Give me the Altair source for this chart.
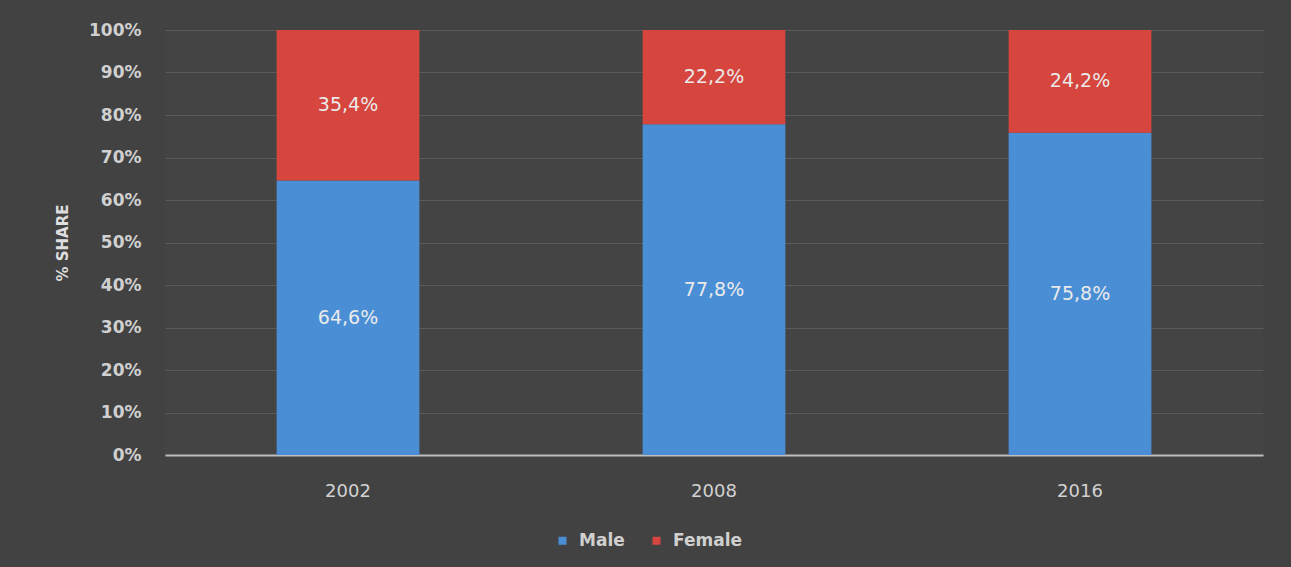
import altair as alt
import pandas as pd

years = ["2002", "2008", "2016"]
male = [64.6, 77.8, 75.8]
female = [35.4, 22.2, 24.2]
male_labels = ["64,6%", "77,8%", "75,8%"]
female_labels = ["35,4%", "22,2%", "24,2%"]

rows = []
for i, y in enumerate(years):
    rows.append({"year": y, "sex": "Male", "ord": 0, "value": male[i], "label": male_labels[i]})
    rows.append({"year": y, "sex": "Female", "ord": 1, "value": female[i], "label": female_labels[i]})
df = pd.DataFrame(rows)

FONT = "DejaVu Sans"

base = alt.Chart(df).transform_stack(
    stack="value", groupby=["year"], as_=["y0", "y1"], sort=[alt.SortField("ord")]
).transform_calculate(mid="(datum.y0 + datum.y1) / 2")

xenc = alt.X(
    "year:N",
    title=None,
    scale=alt.Scale(paddingInner=0.61, paddingOuter=0.305),
    axis=alt.Axis(
        labelAngle=0, ticks=False, labelPadding=27, labelFontSize=18,
        labelColor="#d2d2d2", domainColor="#bdbdbd", domainWidth=2,
        labelFont=FONT,
    ),
)

bars = base.mark_bar(strokeWidth=0).encode(
    x=xenc,
    y=alt.Y(
        "y0:Q",
        scale=alt.Scale(domain=[0, 100]),
        title="% SHARE",
        axis=alt.Axis(
            values=list(range(0, 101, 10)),
            labelExpr="datum.value + '%'",
            domain=False, ticks=False, labelPadding=24,
            labelFontSize=17, labelColor="#d0d0d0", labelFont=FONT,
            labelFontWeight="bold",
            gridColor="#5a5a5a", gridWidth=1,
            titleFont=FONT, titleFontSize=15, titleFontWeight="bold",
            titleColor="#dedede", titlePadding=18,
        ),
    ),
    y2="y1:Q",
    color=alt.Color(
        "sex:N",
        scale=alt.Scale(domain=["Male", "Female"], range=["#4a8fd6", "#d6453e"]),
        legend=alt.Legend(
            title=None, orient="none", direction="horizontal",
            legendX=389, legendY=502, symbolType="square", symbolSize=64,
            labelColor="#d0d0d0", labelFontSize=17, labelFont=FONT,
            labelFontWeight="bold", labelOffset=8,
            columnPadding=23, symbolStrokeWidth=0,
        ),
    ),
    order=alt.Order("ord:Q"),
)

text = base.mark_text(color="#eaeaea", fontSize=19, font=FONT).encode(
    x=alt.X("year:N"),
    y=alt.Y("mid:Q"),
    text="label:N",
)

chart = alt.layer(bars, text).properties(
    width=1098, height=425,
    autosize=alt.AutoSizeParams(type="none"),
    padding={"left": 165, "top": 30, "right": 28, "bottom": 112},
    background="#424242",
).configure_view(stroke=None, fill="#444444")

chart.save("out.html", embed_options={"renderer": "svg", "actions": False})
